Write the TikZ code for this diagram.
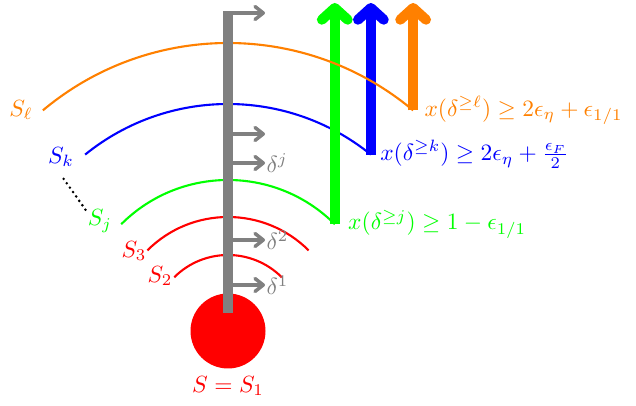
\documentclass[tikz,border=0pt]{standalone}
\usetikzlibrary{arrows.meta,positioning,calc}
\definecolor{lvlorange}{HTML}{FF8000}
\definecolor{lvlgreen}{HTML}{00FF00}
\definecolor{lvlblue}{HTML}{0000FF}
\begin{document}
\begin{tikzpicture}[x=0.015cm, y=0.015cm,
  level/.style={line width=0.9pt},
  bigarrow/.style={line width=4.27pt, -{Straight Barb[length=5pt, width=11pt, round]}},
  shiftarrow/.style={draw=gray, line width=1.5pt, -{Straight Barb[length=3.5pt, width=5.5pt, round]}},
  shiftlab/.style={text=gray, anchor=west, inner sep=0.5pt},
  bound/.style={anchor=west, inner sep=0pt}]
  \useasboundingbox (-228,-75) rectangle (408,331);
  % source ball
  \fill[red] (0,0) circle (37.5);
  \node[text=red] (s1) at (0,-55) {$S=S_1$};
  % level sets
  \draw[red, level] (45:76) arc[start angle=45, end angle=135, radius=76];
  \draw[red, level] (45:114) arc[start angle=45, end angle=135, radius=114];
  \draw[lvlgreen, level] (45:151) arc[start angle=45, end angle=135, radius=151];
  \draw[lvlblue, level] (51:227) arc[start angle=51, end angle=129, radius=227];
  \coordinate (gbot) at (45:151);
  \coordinate (bbot) at (51:227);
  \coordinate (obot) at (50:288);
  \draw[lvlgreen, bigarrow] (gbot) -- (gbot |- 0,328);
  \draw[lvlblue, bigarrow] (bbot) -- (bbot |- 0,328);
  \draw[lvlorange, level] (50:288) arc[start angle=50, end angle=130, radius=288];
  \draw[lvlorange, bigarrow] (obot) -- (obot |- 0,328);
  \node[text=red] (s2) at (-68,55) {$S_2$};
  \node[text=red] (s3) at (-94,80) {$S_3$};
  \node[text=lvlgreen] (sj) at (-128,110) {$S_j$};
  \node[text=lvlblue] (sk) at (-167,174) {$S_k$};
  \node[text=lvlorange] (sl) at (-207,221) {$S_\ell$};
  \draw[line width=1.2pt, line cap=round, dash pattern=on 0pt off 2.3pt,
        shorten <=2pt, shorten >=-5pt] (sk.south) -- (sj.north west);
  % bounds on the right
  \node[bound, text=lvlorange] (bl) at ($(obot)+(11,0)$) {$x(\delta^{\geq \ell}) \geq 2\epsilon_\eta + \epsilon_{1/1}$};
  \node[bound, text=lvlblue] (bk) at ($(bbot)+(9,0)$) {$x(\delta^{\geq k}) \geq 2\epsilon_\eta + \frac{\epsilon_F}{2}$};
  \node[bound, text=lvlgreen] (bj) at ($(gbot)+(13,0)$) {$x(\delta^{\geq j}) \geq 1 - \epsilon_{1/1}$};
  % the path and its shifts
  \draw[gray, line width=4.27pt] (0,18) -- (0,320);
  \coordinate (top) at (5,318);
  \coordinate (topend) at (37,318);
  \draw[shiftarrow] (top) -- (topend);
  \coordinate (u) at (5,197);
  \coordinate (uend) at (37,197);
  \draw[shiftarrow] (u) -- (uend);
  \node[shiftlab] (dj) at (37,168) {$\delta^j$};
  \node[shiftlab] (d2) at (37,91) {$\delta^2$};
  \node[shiftlab] (d1) at (37,46) {$\delta^1$};
  \draw[shiftarrow] (5,168) -- (dj.west);
  \draw[shiftarrow] (5,91) -- (d2.west);
  \draw[shiftarrow] (5,46) -- (d1.west);
\end{tikzpicture}
\end{document}
